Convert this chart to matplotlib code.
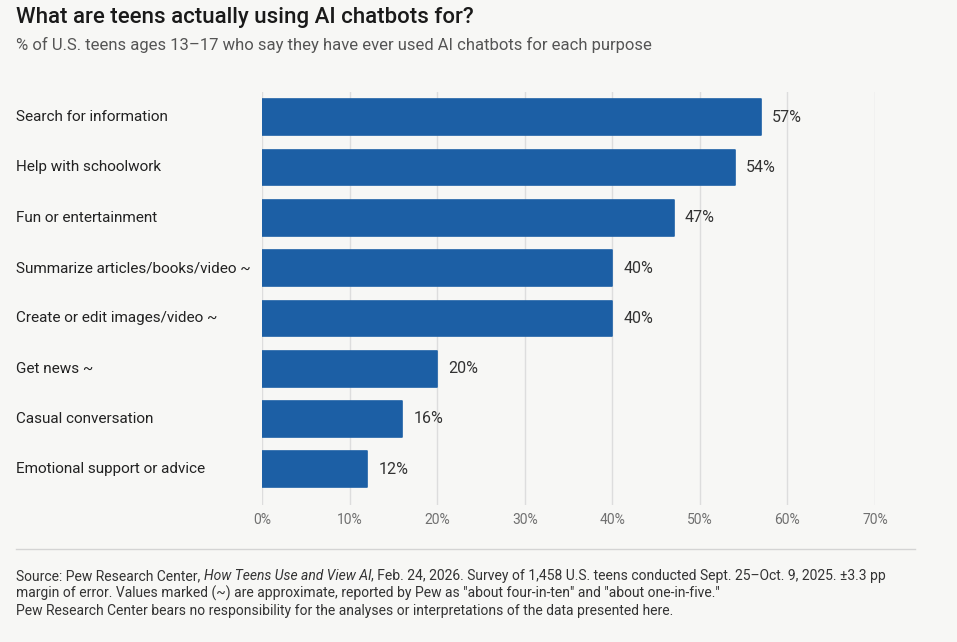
import matplotlib.pyplot as plt

plt.rcParams['font.family'] = ['Roboto', 'DejaVu Sans']

# data
purposes = ["Search for information", "Help with schoolwork", "Fun or entertainment",
            "Summarize articles/books/video ~", "Create or edit images/video ~",
            "Get news ~", "Casual conversation", "Emotional support or advice"]
shares = [57, 54, 47, 40, 40, 20, 16, 12]
xticks = [0, 10, 20, 30, 40, 50, 60, 70]

bg = "#f7f7f5"
bar_color = "#1c5fa5"
W, H = 957, 642

fig = plt.figure(figsize=(W / 100, H / 100), dpi=100, facecolor=bg)
# axes in pixel terms: x 262..875, y 92..505
ax = fig.add_axes([262 / W, 1 - 505 / H, (875 - 262) / W, (505 - 92) / H])
ax.set_facecolor(bg)

ypos = list(range(len(purposes)))
ax.barh(ypos, shares, height=0.71, color=bar_color, edgecolor=bar_color,
        linewidth=1.2, joinstyle="round", zorder=3)
for y, v in zip(ypos, shares):
    ax.annotate(f"{v}%", (v, y), xytext=(8, 0), textcoords="offset points",
                va="center", ha="left", fontsize=11.5, color="#333333")

ax.set_xlim(0, 70)
ax.set_ylim(7.71, -0.5)
ax.set_xticks(xticks)
ax.set_xticklabels([f"{t}%" for t in xticks], color="#707070", fontsize=10)
ax.tick_params(axis="x", length=0, pad=6)
ax.grid(axis="x", color="#dddddd", linewidth=1, zorder=0)
ax.set_yticks([])
for s in ax.spines.values():
    s.set_visible(False)

# category labels, left aligned at the page margin
for y, name in zip(ypos, purposes):
    ax.annotate(name, xy=(16 / W, y), xycoords=(fig.transFigure, ax.transData),
                va="center", ha="left", fontsize=11, color="#222222")

fig.text(16 / W, 1 - 17 / H, "What are teens actually using AI chatbots for?",
         fontsize=16, fontweight="medium", color="#1a1a1a", va="center")
fig.text(16 / W, 1 - 45 / H,
         "% of U.S. teens ages 13\u201317 who say they have ever used AI chatbots for each purpose",
         fontsize=12, color="#555555", va="center")

fig.add_artist(plt.Line2D([16 / W, 915 / W], [1 - 549 / H, 1 - 549 / H],
                          color="#d4d4d4", linewidth=1))

# footer, first line mixes plain and italic pieces
foot = dict(fontsize=10, color="#333333", va="center")
renderer = fig.canvas.get_renderer()
x = 16 / W
pieces = [("Source: Pew Research Center, ", "normal"),
          ("How Teens Use and View AI", "italic"),
          (", Feb. 24, 2026. Survey of 1,458 U.S. teens conducted Sept. 25\u2013Oct. 9, 2025. "
           "\u00b13.3 pp", "normal")]
for txt, style in pieces:
    t = fig.text(x, 1 - 576 / H, txt, style=style, **foot)
    x += t.get_window_extent(renderer).width / W
fig.text(16 / W, 1 - 593 / H,
         "margin of error. Values marked (~) are approximate, reported by Pew as "
         "\"about four-in-ten\" and \"about one-in-five.\"", **foot)
fig.text(16 / W, 1 - 611 / H,
         "Pew Research Center bears no responsibility for the analyses or interpretations "
         "of the data presented here.", **foot)

fig.savefig("out.png", dpi=100, facecolor=bg)
